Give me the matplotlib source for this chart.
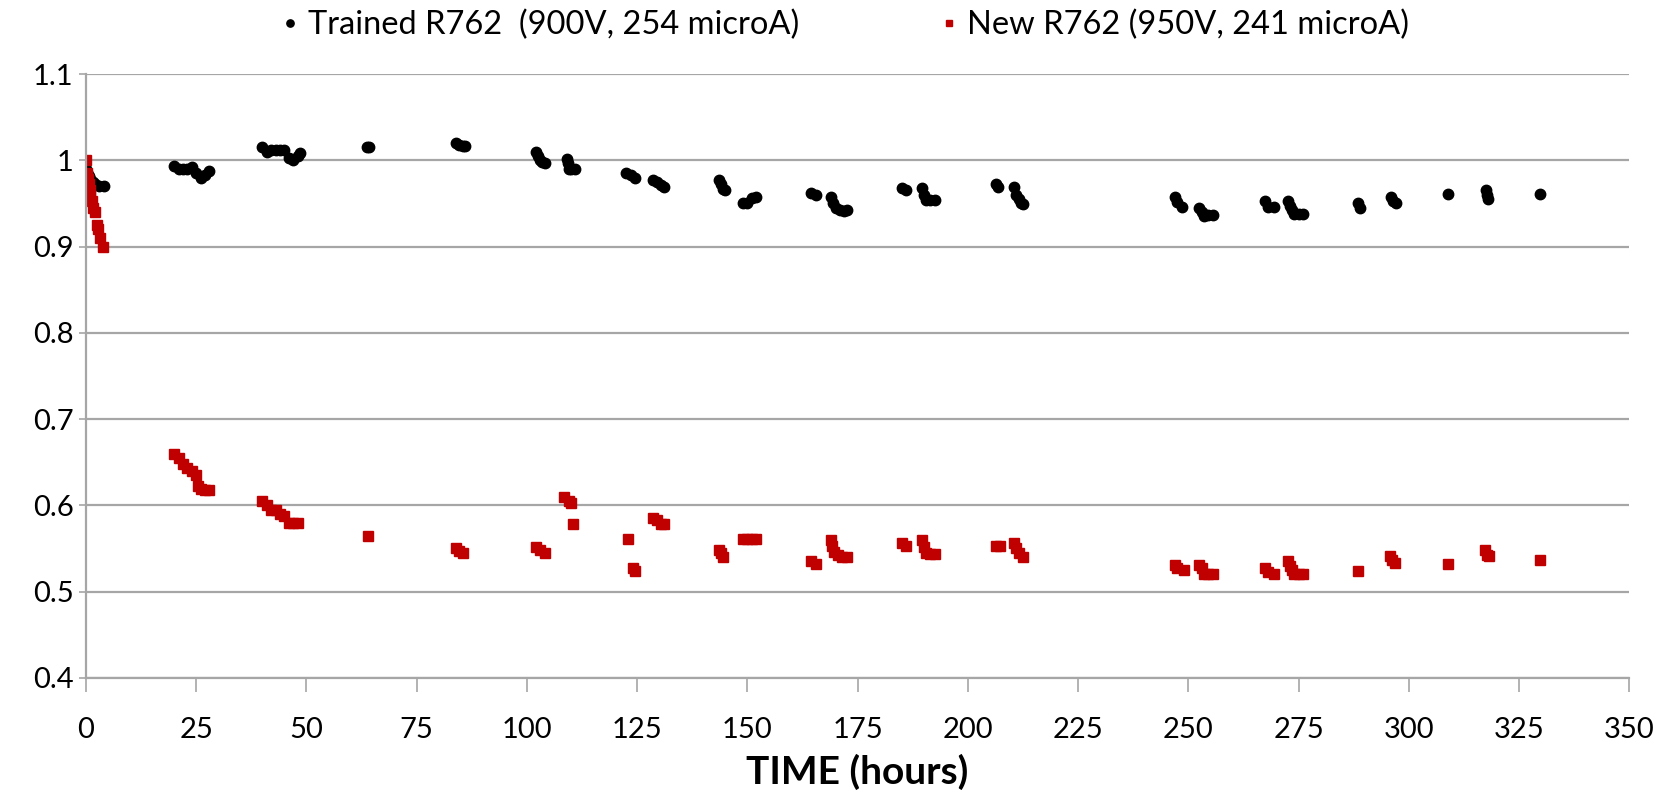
import matplotlib
matplotlib.use("Agg")
import matplotlib.pyplot as plt
import matplotlib.ticker as ticker

plt.rcParams['font.family'] = ['Lato', 'DejaVu Sans']

# Trained R762 (900V, 254 microA)
trained_t = [0, 0.3, 0.6, 1, 1.5, 2, 3, 4,
             20, 21, 22, 23, 24, 25, 26, 27, 28,
             40, 41, 42, 43, 44, 45, 46, 47, 48, 48.5,
             63.8, 64.2,
             84, 84.5, 85.5, 86,
             102, 102.5, 103, 103.5, 104,
             109, 109.3, 109.6, 110, 111,
             122.5, 123.5, 124.5,
             128.5, 129.5, 130.5, 131,
             143.5, 144, 144.5, 145,
             149, 150, 151, 152,
             164.5, 165.5,
             169, 169.5, 170, 171, 172, 172.5,
             185, 186,
             189.5, 190, 190.5, 191.5, 192.5,
             206.3, 206.8,
             210.5, 211, 211.5, 212, 212.5,
             247, 247.5, 248.5,
             252.5, 253, 253.5, 254.5, 255.5,
             267.5, 268, 269.5,
             272.5, 273, 273.5, 274, 275, 276,
             288.5, 289,
             296, 296.5, 297,
             309,
             317.5, 317.8, 318,
             329.8]
trained_v = [0.99, 0.986, 0.982, 0.978, 0.975, 0.972, 0.97, 0.97,
             0.993, 0.99, 0.99, 0.99, 0.992, 0.985, 0.98, 0.983, 0.988,
             1.015, 1.01, 1.012, 1.012, 1.012, 1.012, 1.003, 1.0, 1.005, 1.008,
             1.015, 1.015,
             1.02, 1.018, 1.016, 1.016,
             1.01, 1.005, 1.0, 0.998, 0.997,
             1.002, 0.997, 0.99, 0.99, 0.99,
             0.985, 0.983, 0.98,
             0.977, 0.975, 0.971, 0.969,
             0.977, 0.972, 0.967, 0.965,
             0.95, 0.951, 0.956, 0.957,
             0.962, 0.96,
             0.957, 0.95, 0.945, 0.942, 0.941, 0.942,
             0.968, 0.965,
             0.968, 0.96, 0.954, 0.954, 0.954,
             0.972, 0.969,
             0.969, 0.96, 0.955, 0.95, 0.949,
             0.957, 0.952, 0.946,
             0.945, 0.94, 0.935, 0.937, 0.937,
             0.953, 0.946, 0.946,
             0.953, 0.947, 0.942, 0.938, 0.938, 0.938,
             0.95, 0.945,
             0.957, 0.953, 0.95,
             0.961,
             0.965, 0.96, 0.955,
             0.961]

# New R762 (950V, 241 microA)
new_t = [0, 0.2, 0.4, 0.6, 0.8, 1.0, 1.3, 1.6, 2.0, 2.4, 2.8, 3.2, 3.8,
         20, 21, 22, 23, 24, 25, 25.5, 26, 27, 28,
         40, 41, 42, 43, 44, 45, 46, 47, 48,
         64,
         84, 84.5, 85.5,
         102, 103, 104,
         108.5, 109.5, 110,
         110.5,
         123,
         124, 124.5,
         128.5, 129.5, 130.5, 131,
         143.5, 144, 144.5,
         149, 150, 151, 152,
         164.5, 165.5,
         169, 169.3, 169.7, 170.5, 171.5, 172.5,
         185, 186,
         189.5, 190, 190.5, 191.5, 192.5,
         206.3, 207.3,
         210.5, 211, 211.5, 212.5,
         247, 247.5, 249,
         252.5, 253, 253.5, 254.5, 255.5,
         267.5, 268, 269.5,
         272.5, 273, 273.5, 274, 275, 276,
         288.5,
         295.8, 296.3, 296.8,
         309,
         317.3, 317.8, 318.2,
         329.8]
new_v = [1.0, 0.985, 0.978, 0.972, 0.966, 0.96, 0.953, 0.945, 0.94, 0.925, 0.92, 0.91, 0.9,
         0.66, 0.655, 0.648, 0.643, 0.64, 0.635, 0.622, 0.619, 0.618, 0.618,
         0.605, 0.6, 0.595, 0.595, 0.59, 0.588, 0.58, 0.58, 0.58,
         0.565,
         0.551, 0.547, 0.545,
         0.552, 0.548, 0.545,
         0.61, 0.605, 0.603,
         0.578,
         0.561,
         0.527, 0.524,
         0.585, 0.583, 0.578, 0.578,
         0.548, 0.545, 0.54,
         0.561, 0.561, 0.561, 0.561,
         0.535, 0.532,
         0.56, 0.553, 0.546, 0.543, 0.54, 0.54,
         0.556, 0.553,
         0.56, 0.552, 0.545, 0.544, 0.544,
         0.553, 0.553,
         0.556, 0.55, 0.545, 0.54,
         0.531, 0.527, 0.525,
         0.531, 0.527, 0.52, 0.52, 0.52,
         0.527, 0.523, 0.52,
         0.536, 0.53, 0.525, 0.52, 0.52, 0.52,
         0.524,
         0.541, 0.537, 0.533,
         0.532,
         0.548, 0.542, 0.541,
         0.537]

fig = plt.figure(figsize=(16.63, 7.91), dpi=100)
ax = fig.add_axes([0.0517, 0.143, 0.928, 0.7634])

ax.plot(trained_t, trained_v, 'o', color='black', markersize=7.5,
        label='Trained R762  (900V, 254 microA)')
ax.plot(new_t, new_v, 's', color='#C00000', markersize=6.5,
        label='New R762 (950V, 241 microA)')

ax.set_xlim(0, 350)
ax.set_ylim(0.4, 1.1)
ax.xaxis.set_major_locator(ticker.MultipleLocator(25))
ax.yaxis.set_major_locator(ticker.MultipleLocator(0.1))
ax.yaxis.set_major_formatter(ticker.FuncFormatter(lambda v, p: f'{v:.1f}'.replace('1.0', '1')))

ax.grid(True, axis='y', color='#A6A6A6', linewidth=1.6)
ax.set_axisbelow(True)
for s in ['top', 'right']:
    ax.spines[s].set_visible(False)
for s in ['left', 'bottom']:
    ax.spines[s].set_color('#A6A6A6')
    ax.spines[s].set_linewidth(1.6)
ax.tick_params(axis='x', length=10, width=1.2, color='#A6A6A6', labelsize=21, pad=18)
ax.tick_params(axis='y', length=5, width=1.2, color='#A6A6A6', labelsize=21, pad=4)

ax.set_xlabel('TIME (hours)', fontsize=28, fontweight='bold', labelpad=8)

fig.legend(loc='center', bbox_to_anchor=(0.507, 0.968), ncol=2, frameon=False,
           fontsize=23.5, markerscale=0.7, handletextpad=0.15, columnspacing=4.2,
           handlelength=0.8)

fig.savefig('out.png', dpi=100)
